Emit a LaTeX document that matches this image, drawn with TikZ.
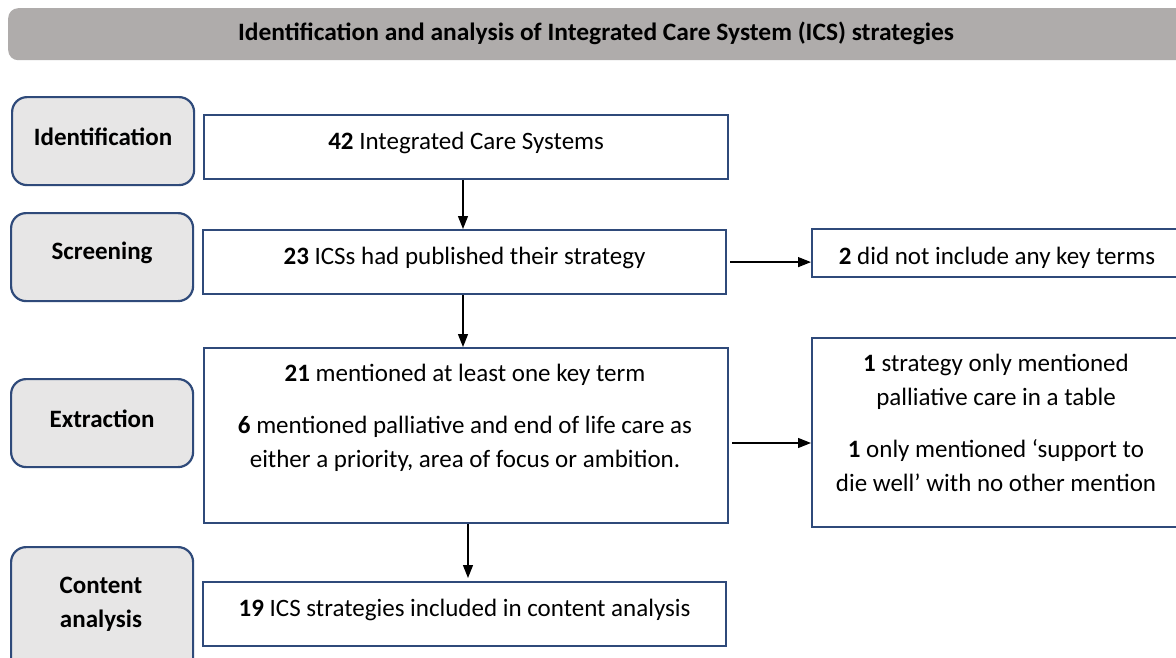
\documentclass[tikz,border=0pt]{standalone}
\usepackage{fontspec}
\setmainfont{Carlito}
\usetikzlibrary{arrows.meta}
\definecolor{bordblue}{HTML}{2F4A7A}
\definecolor{titlegray}{HTML}{AFACAB}
\definecolor{stagegray}{HTML}{E7E6E6}
\newcommand\uptext[1]{\raisebox{4pt}[\height][\depth]{#1}}
\tikzset{
  stagebox/.style={draw=bordblue, fill=stagegray, line width=2.2pt, rounded corners=15pt,
    anchor=north west, minimum width=182pt, minimum height=88pt, inner sep=0pt,
    font=\fontsize{25}{34}\selectfont\bfseries, align=center},
  flowbox/.style={draw=bordblue, fill=white, line width=2.2pt, anchor=north west,
    inner sep=0pt, font=\fontsize{25}{34}\selectfont, align=center},
  flowtext/.style={font=\fontsize{25}{34}\selectfont, align=center},
  flowarrow/.style={line width=1.3pt, -{Triangle[length=13pt,width=10pt]}},
  titlebar/.style={draw=none, fill=titlegray, rounded corners=10pt, anchor=north west,
    minimum width=1200pt, minimum height=52pt, inner sep=0pt}
}
\begin{document}
\begin{tikzpicture}[x=1pt,y=-1pt]
\clip (0,0) rectangle (1176,657);
\fill[white] (0,0) rectangle (1176,657);
% title bar
\node[titlebar] (tbar) at (8,8) {};
\node[font=\fontsize{25}{30}\selectfont\bfseries] (title) at (596,33)
  {\scalebox{1.02}[1]{Identification and analysis of Integrated Care System (ICS) strategies}};
% stage boxes
\node[stagebox] (sid) at (11,96) {\uptext{Identification}};
\node[stagebox] (sscr) at (10,212) {\uptext{Screening}};
\node[stagebox] (sext) at (10,378) {\uptext{Extraction}};
\node[stagebox, minimum height=130pt] (scon) at (10,546) {};
\node[font=\fontsize{25}{34}\selectfont\bfseries, align=center] (scontext) at (101,604) {Content\\analysis};
% flow boxes
\node[flowbox, minimum width=524pt, minimum height=64pt] (b42) at (203,114) {\uptext{\textbf{42} Integrated Care Systems}};
\node[flowbox, minimum width=523pt, minimum height=64pt] (b23) at (202,229) {\uptext{\textbf{23} ICSs had published their strategy}};
\node[flowbox, minimum width=524pt, minimum height=175pt] (b21) at (203,347) {};
\node[flowtext] (t21a) at (465,375) {\textbf{21} mentioned at least one key term};
\node[flowtext] (t21b) at (465,444)
  {\textbf{6} mentioned palliative and end of life care as\\either a priority, area of focus or ambition.};
\node[flowbox, minimum width=523pt, minimum height=64pt] (b19) at (202,581) {\uptext{\textbf{19} ICS strategies included in content analysis}};
\node[flowbox, minimum width=400pt, minimum height=48pt] (b2) at (811,228) {};
\node[flowtext] (t2) at (997,258) {\textbf{2} did not include any key terms};
\node[flowbox, minimum width=400pt, minimum height=189pt] (b1) at (811,337) {};
\node[flowtext] (t1a) at (996,382)
  {\textbf{1} strategy only mentioned\\palliative care in a table};
\node[flowtext] (t1b) at (996,466)
  {\textbf{1} only mentioned ‘support to\\die well’ with no other mention};
% arrows
\draw[flowarrow] (b42.south -| 463,0) -- (b23.north -| 463,0);
\draw[flowarrow] (b23.south -| 463,0) -- (b21.north -| 463,0);
\draw[flowarrow] (b21.south -| 468,0) -- ([yshift=3pt]b19.north -| 468,0);
\draw[flowarrow] ([xshift=3pt]b23.east) -- (b2.west |- b23.east);
\draw[flowarrow] ([xshift=3pt]b21.east |- 0,443) -- (b1.west |- 0,443);
\end{tikzpicture}
\end{document}
